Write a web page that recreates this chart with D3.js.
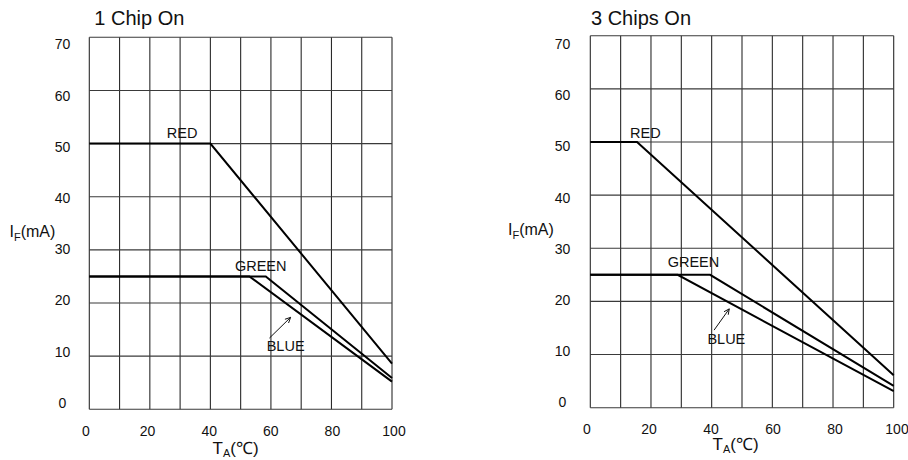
<!DOCTYPE html>
<html>
<head>
<meta charset="utf-8">
<script src="https://cdn.jsdelivr.net/npm/d3@7/dist/d3.min.js"></script>
<style>
  html, body { margin: 0; padding: 0; background: #fff; }
  svg { display: block; font-family: "Liberation Sans", Arial, sans-serif; }
</style>
</head>
<body>
<svg id="chart" width="908" height="460"></svg>
<script>
// ---------- data ----------
const xTicks = [0, 20, 40, 60, 80, 100];
const yTicks = [0, 10, 20, 30, 40, 50, 60, 70];
const xGrid = [0, 10, 20, 30, 40, 50, 60, 70, 80, 90, 100];
const seriesNames = ["RED", "GREEN", "BLUE"];

// [T_A (°C), I_F (mA)]
const oneChipRed   = [[0, 50], [40, 50], [100, 8.6]];
const oneChipGreen = [[0, 25], [58.3, 25], [100, 5.9]];
const oneChipBlue  = [[0, 25], [52.9, 25], [100, 5.2]];

const threeChipRed   = [[0, 50], [15.4, 50], [100, 6.1]];
const threeChipGreen = [[0, 25], [39.5, 25], [100, 4.1]];
const threeChipBlue  = [[0, 25], [28.8, 25], [100, 3.1]];

const titles = ["1 Chip On", "3 Chips On"];

// ---------- layout ----------
const panels = [
  {
    title: titles[0],
    series: [oneChipRed, oneChipGreen, oneChipBlue],
    plot: { x0: 89.3, x1: 392, yTop: 37.3, yBot: 409.3 },
    titlePos: [94.3, 25],
    yLab: { x: 62.5, y0: 402.7, y70: 44.3 },
    xLab: { x0: 86, x100: 394, base: 436 },
    yTitle: [9.5, 236.7],
    xTitle: [212.5, 453.5],
    labels: { RED: [25.6, 51.0], GREEN: [48.1, 26.0], BLUE: [58.6, 11.0] },
    arrow: [[59.5, 13.4], [66.5, 17.3]]
  },
  {
    title: titles[1],
    series: [threeChipRed, threeChipGreen, threeChipBlue],
    plot: { x0: 590.3, x1: 893.7, yTop: 35.7, yBot: 407.7 },
    titlePos: [591, 25],
    yLab: { x: 562.5, y0: 401.7, y70: 44.3 },
    xLab: { x0: 587, x100: 897, base: 434 },
    yTitle: [508, 235],
    xTitle: [712.5, 450],
    labels: { RED: [13.1, 50.7], GREEN: [25.5, 26.4], BLUE: [38.6, 11.9] },
    arrow: [[40.8, 14.6], [45.8, 18.6]]
  }
];

const svg = d3.select("#chart");

panels.forEach(p => {
  const g = svg.append("g");
  const x = d3.scaleLinear().domain([0, 100]).range([p.plot.x0, p.plot.x1]);
  const y = d3.scaleLinear().domain([0, 70]).range([p.plot.yBot, p.plot.yTop]);
  const xl = d3.scaleLinear().domain([0, 100]).range([p.xLab.x0, p.xLab.x100]);
  const yl = d3.scaleLinear().domain([0, 70]).range([p.yLab.y0, p.yLab.y70]);

  // grid
  g.append("g").selectAll("line").data(xGrid).join("line")
    .attr("x1", d => x(d)).attr("x2", d => x(d))
    .attr("y1", y(70)).attr("y2", y(0))
    .attr("stroke", "#2a2a2a").attr("stroke-width", 1.1);
  g.append("g").selectAll("line").data(yTicks).join("line")
    .attr("x1", x(0)).attr("x2", x(100))
    .attr("y1", d => y(d)).attr("y2", d => y(d))
    .attr("stroke", "#3a3a3a").attr("stroke-width", 1.1);

  // tick labels
  g.append("g").selectAll("text").data(yTicks).join("text")
    .attr("x", p.yLab.x).attr("y", d => yl(d))
    .attr("dy", "0.36em")
    .attr("text-anchor", "middle")
    .attr("font-size", 14).attr("fill", "#111")
    .text(d => d);
  g.append("g").selectAll("text").data(xTicks).join("text")
    .attr("x", d => xl(d)).attr("y", p.xLab.base)
    .attr("text-anchor", "middle")
    .attr("font-size", 14).attr("fill", "#111")
    .text(d => d);

  // title
  g.append("text").attr("x", p.titlePos[0]).attr("y", p.titlePos[1])
    .attr("font-size", 20).attr("fill", "#111").text(p.title);

  // y-axis title I_F(mA)
  const yt = g.append("text").attr("x", p.yTitle[0]).attr("y", p.yTitle[1])
    .attr("font-size", 16).attr("fill", "#111");
  yt.append("tspan").text("I");
  yt.append("tspan").attr("font-size", 11).attr("dy", 4).text("F");
  yt.append("tspan").attr("dy", -4).text("(mA)");

  // x-axis title T_A(℃)
  const xt = g.append("text").attr("x", p.xTitle[0]).attr("y", p.xTitle[1])
    .attr("font-size", 17).attr("fill", "#111");
  xt.append("tspan").text("T");
  xt.append("tspan").attr("font-size", 11).attr("dy", 3).text("A");
  xt.append("tspan").attr("dy", -3).text("(℃)");

  // data lines
  const line = d3.line().x(d => x(d[0])).y(d => y(d[1]));
  g.append("g").selectAll("path").data(p.series).join("path")
    .attr("d", line)
    .attr("fill", "none").attr("stroke", "#000")
    .attr("stroke-width", 2).attr("stroke-linejoin", "miter");

  // series labels
  seriesNames.forEach(name => {
    const pos = p.labels[name];
    g.append("text").attr("x", x(pos[0])).attr("y", y(pos[1]))
      .attr("font-size", 14.5).attr("fill", "#111").text(name);
  });

  // arrow to BLUE
  const a0 = [x(p.arrow[0][0]), y(p.arrow[0][1])];
  const a1 = [x(p.arrow[1][0]), y(p.arrow[1][1])];
  g.append("line").attr("x1", a0[0]).attr("y1", a0[1]).attr("x2", a1[0]).attr("y2", a1[1])
    .attr("stroke", "#111").attr("stroke-width", 1);
  const ang = Math.atan2(a1[1] - a0[1], a1[0] - a0[0]);
  const hl = 6, hw = 0.45;
  const h1 = [a1[0] - hl * Math.cos(ang - hw), a1[1] - hl * Math.sin(ang - hw)];
  const h2 = [a1[0] - hl * Math.cos(ang + hw), a1[1] - hl * Math.sin(ang + hw)];
  g.append("path")
    .attr("d", `M${h1[0]},${h1[1]}L${a1[0]},${a1[1]}L${h2[0]},${h2[1]}`)
    .attr("fill", "none").attr("stroke", "#111").attr("stroke-width", 1);
});
</script>
</body>
</html>
